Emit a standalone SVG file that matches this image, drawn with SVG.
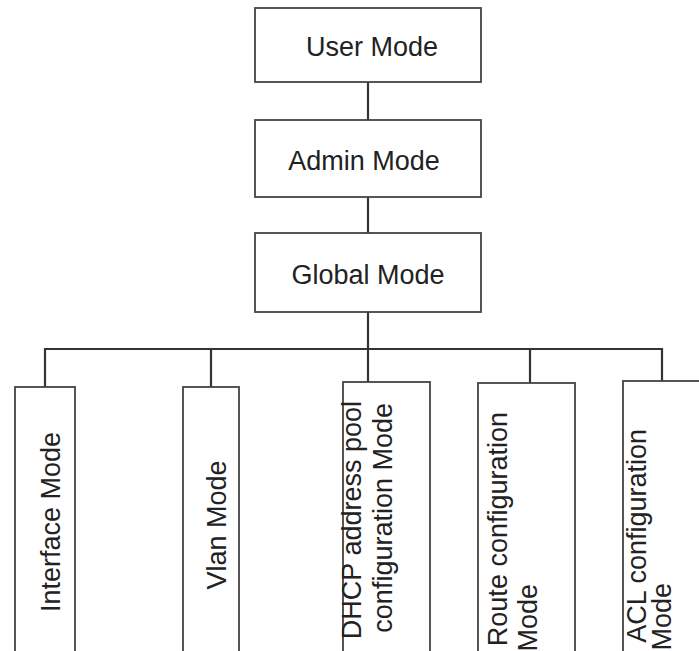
<svg xmlns="http://www.w3.org/2000/svg" width="699" height="651" viewBox="0 0 699 651">
<style>
.box{fill:#fff;stroke:#444;stroke-width:1.8}
.con{fill:none;stroke:#333;stroke-width:2.2}
.t{font-family:"Liberation Sans",Arial,sans-serif;font-size:27px;fill:#222}
.c{text-anchor:middle}
.e{text-anchor:end}
</style>
<rect width="699" height="651" fill="#fff"/>
<g id="connectors">
<line class="con" x1="368" y1="82" x2="368" y2="120"/>
<line class="con" x1="368" y1="197" x2="368" y2="233"/>
<line class="con" x1="368" y1="312" x2="368" y2="382"/>
<polyline class="con" points="45,387 45,349 662,349 662,381"/>
<line class="con" x1="211" y1="349" x2="211" y2="387"/>
<line class="con" x1="530" y1="349" x2="530" y2="383"/>
</g>
<g id="user">
<rect class="box" x="255" y="8" width="226" height="74"/>
<text class="t c" x="372" y="56">User Mode</text>
</g>
<g id="admin">
<rect class="box" x="255" y="120" width="226" height="77"/>
<text class="t c" x="364" y="170">Admin Mode</text>
</g>
<g id="global">
<rect class="box" x="255" y="233" width="226" height="79"/>
<text class="t c" x="368" y="284">Global Mode</text>
</g>
<g id="interface">
<rect class="box" x="15" y="387" width="60" height="280"/>
<text class="t c" transform="translate(60,522) rotate(-90)">Interface Mode</text>
</g>
<g id="vlan">
<rect class="box" x="183" y="387" width="56" height="280"/>
<text class="t c" transform="translate(226,525) rotate(-90)">Vlan Mode</text>
</g>
<g id="dhcp">
<rect class="box" x="343" y="382" width="87" height="290"/>
<text class="t e" transform="translate(361,401) rotate(-90)">DHCP address pool</text>
<text class="t e" transform="translate(392,403) rotate(-90)">configuration Mode</text>
</g>
<g id="route">
<rect class="box" x="478" y="383" width="97" height="290"/>
<text class="t e" transform="translate(507,412) rotate(-90)">Route configuration</text>
<text class="t e" transform="translate(537,584) rotate(-90)">Mode</text>
</g>
<g id="acl">
<rect class="box" x="623" y="381" width="100" height="290"/>
<text class="t e" transform="translate(646,429) rotate(-90)">ACL configuration</text>
<text class="t e" transform="translate(671,583) rotate(-90)">Mode</text>
</g>
</svg>
